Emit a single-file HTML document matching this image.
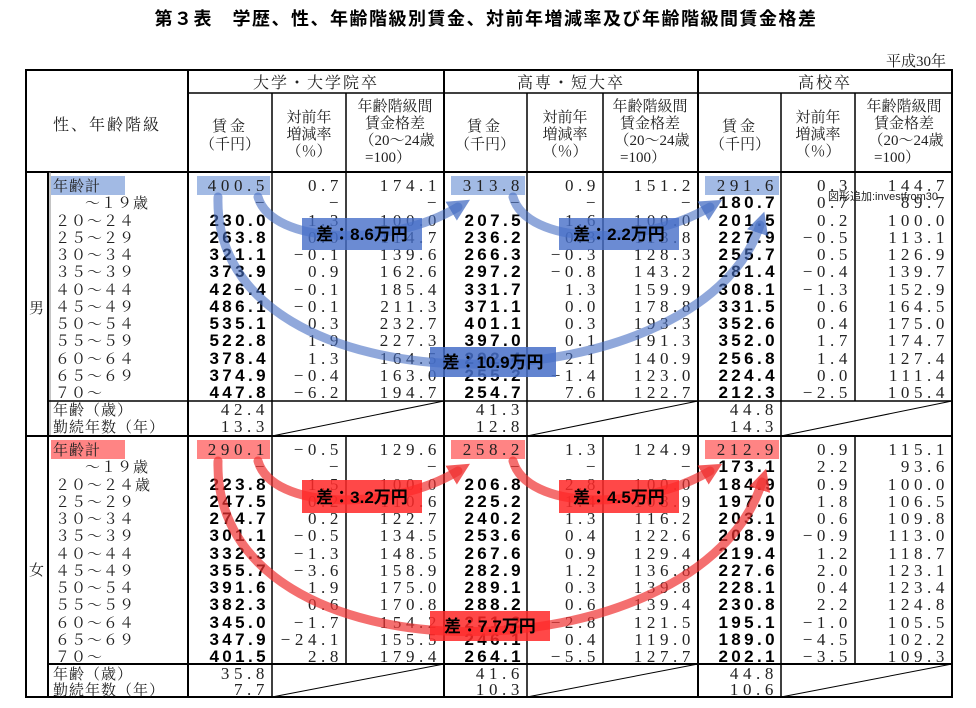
<!DOCTYPE html>
<html><head><meta charset="utf-8"><style>
body{margin:0;background:#fff;width:976px;height:708px;overflow:hidden}
svg{display:block}
.t{font-family:"Liberation Serif","Noto Serif CJK SC",serif;font-size:15px;fill:#222}
.h{font-family:"Liberation Serif","Noto Serif CJK SC",serif;font-size:15px;fill:#222;text-anchor:middle}
.n text{font-family:"Liberation Serif",serif;font-size:17px;letter-spacing:4.6px;text-anchor:end;fill:#222}
.n text.b{font-family:"Liberation Sans",sans-serif;font-weight:bold;letter-spacing:3.4px;fill:#000}
.lb{font-family:"Noto Serif CJK SC",serif;font-size:15px;fill:#222;letter-spacing:1px}
.box{font-family:"Liberation Sans","Noto Sans CJK JP",sans-serif;font-size:17px;font-weight:bold;fill:#000;text-anchor:middle}
</style></head><body>
<svg width="976" height="708" viewBox="0 0 976 708">
<defs>
<marker id="ab" markerWidth="22" markerHeight="22" refX="8" refY="11" orient="auto" markerUnits="userSpaceOnUse"><path d="M0,0 L22,11 L0,22 z" fill="rgba(70,110,195,0.75)"/></marker>
<marker id="ar" markerWidth="22" markerHeight="22" refX="8" refY="11" orient="auto" markerUnits="userSpaceOnUse"><path d="M0,0 L22,11 L0,22 z" fill="rgba(240,50,50,0.8)"/></marker>
</defs>
<text x="486" y="25" text-anchor="middle" style="font-family:'Liberation Sans','Noto Sans CJK JP',sans-serif;font-size:18px;font-weight:bold;letter-spacing:1.5px">第３表　学歴、性、年齢階級別賃金、対前年増減率及び年齢階級間賃金格差</text>
<text x="946" y="66" text-anchor="end" class="t" style="font-size:15px">平成30年</text>

<g fill="rgba(100,140,210,0.6)">
<rect x="51" y="176" width="74" height="19"/><rect x="197" y="176" width="73" height="19"/><rect x="451" y="176" width="74" height="19"/><rect x="705" y="176" width="74" height="19"/></g>
<g fill="rgba(255,80,80,0.7)">
<rect x="51" y="440" width="74" height="19"/><rect x="197" y="440" width="73" height="19"/><rect x="451" y="440" width="74" height="19"/><rect x="705" y="440" width="74" height="19"/></g>

<g stroke="#000" fill="none">
<rect x="26" y="70" width="926" height="627" stroke-width="2"/>
<line x1="188" y1="93" x2="952" y2="93" stroke-width="1.5"/>
<line x1="26" y1="172" x2="952" y2="172" stroke-width="2"/>
<line x1="188" y1="70" x2="188" y2="697" stroke-width="2"/>
<line x1="444" y1="70" x2="444" y2="697" stroke-width="2"/>
<line x1="698" y1="70" x2="698" y2="697" stroke-width="2"/>
<line x1="272" y1="93" x2="272" y2="697" stroke-width="1.5"/>
<line x1="527" y1="93" x2="527" y2="697" stroke-width="1.5"/>
<line x1="781" y1="93" x2="781" y2="697" stroke-width="1.5"/>
<line x1="346" y1="93" x2="346" y2="401" stroke-width="1.5"/>
<line x1="603" y1="93" x2="603" y2="401" stroke-width="1.5"/>
<line x1="855" y1="93" x2="855" y2="401" stroke-width="1.5"/>
<line x1="346" y1="436" x2="346" y2="664" stroke-width="1.5"/>
<line x1="603" y1="436" x2="603" y2="664" stroke-width="1.5"/>
<line x1="855" y1="436" x2="855" y2="664" stroke-width="1.5"/>
<line x1="48" y1="172" x2="48" y2="697" stroke-width="2"/>
<line x1="50" y1="172" x2="50" y2="436" stroke-width="1" stroke="#888"/>
<line x1="48" y1="401" x2="952" y2="401" stroke-width="1.5"/>
<line x1="26" y1="436" x2="952" y2="436" stroke-width="2"/>
<line x1="48" y1="664" x2="952" y2="664" stroke-width="2"/>
<line x1="272" y1="436" x2="444" y2="401" stroke-width="1"/>
<line x1="527" y1="436" x2="698" y2="401" stroke-width="1"/>
<line x1="781" y1="436" x2="952" y2="401" stroke-width="1"/>
<line x1="272" y1="697" x2="444" y2="664" stroke-width="1"/>
<line x1="527" y1="697" x2="698" y2="664" stroke-width="1"/>
<line x1="781" y1="697" x2="952" y2="664" stroke-width="1"/>
</g>

<g class="h" style="font-size:16px">
<text x="316" y="88" letter-spacing="2">大学・大学院卒</text>
<text x="571" y="88" letter-spacing="2">高専・短大卒</text>
<text x="825" y="88" letter-spacing="2">高校卒</text>
<text x="107" y="130" letter-spacing="2">性、年齢階級</text>
</g>
<g class="h">
<text x="230" y="131" letter-spacing="3">賃金</text><text x="230" y="149">（千円）</text>
<text x="309" y="122">対前年</text><text x="309" y="139">増減率</text><text x="309" y="156">（％）</text>
<text x="395" y="111">年齢階級間</text><text x="395" y="128">賃金格差</text><text x="397" y="145">（20～24歳</text><text x="388" y="162">=100）</text>
<text x="485" y="131" letter-spacing="3">賃金</text><text x="485" y="149">（千円）</text>
<text x="565" y="122">対前年</text><text x="565" y="139">増減率</text><text x="565" y="156">（％）</text>
<text x="650" y="111">年齢階級間</text><text x="650" y="128">賃金格差</text><text x="652" y="145">（20～24歳</text><text x="643" y="162">=100）</text>
<text x="740" y="131" letter-spacing="3">賃金</text><text x="740" y="149">（千円）</text>
<text x="818" y="122">対前年</text><text x="818" y="139">増減率</text><text x="818" y="156">（％）</text>
<text x="904" y="111">年齢階級間</text><text x="904" y="128">賃金格差</text><text x="906" y="145">（20～24歳</text><text x="897" y="162">=100）</text>
</g>
<text x="29" y="313" class="t">男</text>
<text x="29" y="575" class="t">女</text>

<g class="lb">
<text x="53" y="191">年齢計</text>
<text x="85" y="208">～１９歳</text>
<text x="55" y="226">２０～２４</text>
<text x="55" y="243">２５～２９</text>
<text x="55" y="260">３０～３４</text>
<text x="55" y="277">３５～３９</text>
<text x="55" y="295">４０～４４</text>
<text x="55" y="312">４５～４９</text>
<text x="55" y="329">５０～５４</text>
<text x="55" y="346">５５～５９</text>
<text x="55" y="364">６０～６４</text>
<text x="55" y="381">６５～６９</text>
<text x="55" y="398">７０～</text>
<text x="53" y="415">年齢（歳）</text>
<text x="53" y="432">勤続年数（年）</text>
<text x="53" y="455">年齢計</text>
<text x="85" y="472">～１９歳</text>
<text x="55" y="490">２０～２４歳</text>
<text x="55" y="507">２５～２９</text>
<text x="55" y="524">３０～３４</text>
<text x="55" y="541">３５～３９</text>
<text x="55" y="559">４０～４４</text>
<text x="55" y="576">４５～４９</text>
<text x="55" y="593">５０～５４</text>
<text x="55" y="610">５５～５９</text>
<text x="55" y="628">６０～６４</text>
<text x="55" y="645">６５～６９</text>
<text x="55" y="662">７０～</text>
<text x="53" y="679">年齢（歳）</text>
<text x="53" y="695">勤続年数（年）</text>
</g>

<g class="n" transform="translate(-3,0)">
<g transform="translate(0,191)"><text x="272">400.5</text><text x="346">0.7</text><text x="444">174.1</text><text x="527">313.8</text><text x="603">0.9</text><text x="698">151.2</text><text x="781">291.6</text><text x="855">0.3</text><text x="952">144.7</text></g>
<g transform="translate(0,208)"><text x="272">−</text><text x="346">−</text><text x="444">−</text><text x="527">−</text><text x="603">−</text><text x="698">−</text><text class="b" x="781">180.7</text><text x="855">0.7</text><text x="952">89.7</text></g>
<g transform="translate(0,226)"><text class="b" x="272">230.0</text><text x="346">1.3</text><text x="444">100.0</text><text class="b" x="527">207.5</text><text x="603">1.6</text><text x="698">100.0</text><text class="b" x="781">201.5</text><text x="855">0.2</text><text x="952">100.0</text></g>
<g transform="translate(0,243)"><text class="b" x="272">263.8</text><text x="346">0.0</text><text x="444">114.7</text><text class="b" x="527">236.2</text><text x="603">0.3</text><text x="698">113.8</text><text class="b" x="781">227.9</text><text x="855">−0.5</text><text x="952">113.1</text></g>
<g transform="translate(0,260)"><text class="b" x="272">321.1</text><text x="346">−0.1</text><text x="444">139.6</text><text class="b" x="527">266.3</text><text x="603">−0.3</text><text x="698">128.3</text><text class="b" x="781">255.7</text><text x="855">0.5</text><text x="952">126.9</text></g>
<g transform="translate(0,277)"><text class="b" x="272">373.9</text><text x="346">0.9</text><text x="444">162.6</text><text class="b" x="527">297.2</text><text x="603">−0.8</text><text x="698">143.2</text><text class="b" x="781">281.4</text><text x="855">−0.4</text><text x="952">139.7</text></g>
<g transform="translate(0,295)"><text class="b" x="272">426.4</text><text x="346">−0.1</text><text x="444">185.4</text><text class="b" x="527">331.7</text><text x="603">1.3</text><text x="698">159.9</text><text class="b" x="781">308.1</text><text x="855">−1.3</text><text x="952">152.9</text></g>
<g transform="translate(0,312)"><text class="b" x="272">486.1</text><text x="346">−0.1</text><text x="444">211.3</text><text class="b" x="527">371.1</text><text x="603">0.0</text><text x="698">178.8</text><text class="b" x="781">331.5</text><text x="855">0.6</text><text x="952">164.5</text></g>
<g transform="translate(0,329)"><text class="b" x="272">535.1</text><text x="346">0.3</text><text x="444">232.7</text><text class="b" x="527">401.1</text><text x="603">0.3</text><text x="698">193.3</text><text class="b" x="781">352.6</text><text x="855">0.4</text><text x="952">175.0</text></g>
<g transform="translate(0,346)"><text class="b" x="272">522.8</text><text x="346">1.9</text><text x="444">227.3</text><text class="b" x="527">397.0</text><text x="603">0.1</text><text x="698">191.3</text><text class="b" x="781">352.0</text><text x="855">1.7</text><text x="952">174.7</text></g>
<g transform="translate(0,364)"><text class="b" x="272">378.4</text><text x="346">1.3</text><text x="444">164.5</text><text class="b" x="527">292.4</text><text x="603">2.1</text><text x="698">140.9</text><text class="b" x="781">256.8</text><text x="855">1.4</text><text x="952">127.4</text></g>
<g transform="translate(0,381)"><text class="b" x="272">374.9</text><text x="346">−0.4</text><text x="444">163.0</text><text class="b" x="527">255.2</text><text x="603">−1.4</text><text x="698">123.0</text><text class="b" x="781">224.4</text><text x="855">0.0</text><text x="952">111.4</text></g>
<g transform="translate(0,398)"><text class="b" x="272">447.8</text><text x="346">−6.2</text><text x="444">194.7</text><text class="b" x="527">254.7</text><text x="603">7.6</text><text x="698">122.7</text><text class="b" x="781">212.3</text><text x="855">−2.5</text><text x="952">105.4</text></g>
<g transform="translate(0,415)"><text x="272">42.4</text><text x="527">41.3</text><text x="781">44.8</text></g>
<g transform="translate(0,432)"><text x="272">13.3</text><text x="527">12.8</text><text x="781">14.3</text></g>

<g transform="translate(0,455)"><text x="272">290.1</text><text x="346">−0.5</text><text x="444">129.6</text><text x="527">258.2</text><text x="603">1.3</text><text x="698">124.9</text><text x="781">212.9</text><text x="855">0.9</text><text x="952">115.1</text></g>
<g transform="translate(0,472)"><text x="272">−</text><text x="346">−</text><text x="444">−</text><text x="527">−</text><text x="603">−</text><text x="698">−</text><text class="b" x="781">173.1</text><text x="855">2.2</text><text x="952">93.6</text></g>
<g transform="translate(0,490)"><text class="b" x="272">223.8</text><text x="346">1.5</text><text x="444">100.0</text><text class="b" x="527">206.8</text><text x="603">2.8</text><text x="698">100.0</text><text class="b" x="781">184.9</text><text x="855">0.9</text><text x="952">100.0</text></g>
<g transform="translate(0,507)"><text class="b" x="272">247.5</text><text x="346">0.2</text><text x="444">110.6</text><text class="b" x="527">225.2</text><text x="603">1.4</text><text x="698">108.9</text><text class="b" x="781">197.0</text><text x="855">1.8</text><text x="952">106.5</text></g>
<g transform="translate(0,524)"><text class="b" x="272">274.7</text><text x="346">0.2</text><text x="444">122.7</text><text class="b" x="527">240.2</text><text x="603">1.3</text><text x="698">116.2</text><text class="b" x="781">203.1</text><text x="855">0.6</text><text x="952">109.8</text></g>
<g transform="translate(0,541)"><text class="b" x="272">301.1</text><text x="346">−0.5</text><text x="444">134.5</text><text class="b" x="527">253.6</text><text x="603">0.4</text><text x="698">122.6</text><text class="b" x="781">208.9</text><text x="855">−0.9</text><text x="952">113.0</text></g>
<g transform="translate(0,559)"><text class="b" x="272">332.3</text><text x="346">−1.3</text><text x="444">148.5</text><text class="b" x="527">267.6</text><text x="603">0.9</text><text x="698">129.4</text><text class="b" x="781">219.4</text><text x="855">1.2</text><text x="952">118.7</text></g>
<g transform="translate(0,576)"><text class="b" x="272">355.7</text><text x="346">−3.6</text><text x="444">158.9</text><text class="b" x="527">282.9</text><text x="603">1.2</text><text x="698">136.8</text><text class="b" x="781">227.6</text><text x="855">2.0</text><text x="952">123.1</text></g>
<g transform="translate(0,593)"><text class="b" x="272">391.6</text><text x="346">1.9</text><text x="444">175.0</text><text class="b" x="527">289.1</text><text x="603">0.3</text><text x="698">139.8</text><text class="b" x="781">228.1</text><text x="855">0.4</text><text x="952">123.4</text></g>
<g transform="translate(0,610)"><text class="b" x="272">382.3</text><text x="346">0.6</text><text x="444">170.8</text><text class="b" x="527">288.2</text><text x="603">0.6</text><text x="698">139.4</text><text class="b" x="781">230.8</text><text x="855">2.2</text><text x="952">124.8</text></g>
<g transform="translate(0,628)"><text class="b" x="272">345.0</text><text x="346">−1.7</text><text x="444">154.2</text><text class="b" x="527">251.2</text><text x="603">−2.8</text><text x="698">121.5</text><text class="b" x="781">195.1</text><text x="855">−1.0</text><text x="952">105.5</text></g>
<g transform="translate(0,645)"><text class="b" x="272">347.9</text><text x="346">−24.1</text><text x="444">155.5</text><text class="b" x="527">246.1</text><text x="603">0.4</text><text x="698">119.0</text><text class="b" x="781">189.0</text><text x="855">−4.5</text><text x="952">102.2</text></g>
<g transform="translate(0,662)"><text class="b" x="272">401.5</text><text x="346">2.8</text><text x="444">179.4</text><text class="b" x="527">264.1</text><text x="603">−5.5</text><text x="698">127.7</text><text class="b" x="781">202.1</text><text x="855">−3.5</text><text x="952">109.3</text></g>
<g transform="translate(0,679)"><text x="272">35.8</text><text x="527">41.6</text><text x="781">44.8</text></g>
<g transform="translate(0,695)"><text x="272">7.7</text><text x="527">10.3</text><text x="781">10.6</text></g>
</g>

<text x="828" y="200" style="font-family:'Liberation Sans','Noto Sans CJK JP',sans-serif;font-size:11px;fill:#222">図形追加:investfrom30</text>

<g fill="none" stroke-width="9" stroke-linecap="round">
<path d="M258,197 C272,245 390,248 458,207" stroke="rgba(70,110,195,0.6)" marker-end="url(#ab)"/>
<path d="M513,197 C527,245 640,248 710,207" stroke="rgba(70,110,195,0.6)" marker-end="url(#ab)"/>
<path d="M218,197 C212,420 700,410 760,225" stroke="rgba(70,110,195,0.6)" marker-end="url(#ab)"/>
<path d="M258,461 C272,510 390,512 458,471" stroke="rgba(240,50,50,0.7)" marker-end="url(#ar)"/>
<path d="M513,461 C527,510 640,512 710,471" stroke="rgba(240,50,50,0.7)" marker-end="url(#ar)"/>
<path d="M218,461 C212,690 700,680 762,482" stroke="rgba(240,50,50,0.7)" marker-end="url(#ar)"/>
</g>
<g>
<rect x="302" y="218" width="120" height="32" fill="rgba(70,110,200,0.8)"/><text class="box" x="362" y="240">差：8.6万円</text>
<rect x="559" y="218" width="120" height="32" fill="rgba(70,110,200,0.8)"/><text class="box" x="619" y="240">差：2.2万円</text>
<rect x="430" y="347" width="126" height="30" fill="rgba(70,110,200,0.85)"/><text class="box" x="493" y="368">差：10.9万円</text>
<rect x="302" y="480" width="120" height="33" fill="rgba(255,40,40,0.85)"/><text class="box" x="362" y="503">差：3.2万円</text>
<rect x="559" y="480" width="120" height="33" fill="rgba(255,40,40,0.85)"/><text class="box" x="619" y="503">差：4.5万円</text>
<rect x="430" y="611" width="120" height="30" fill="rgba(255,40,40,0.85)"/><text class="box" x="490" y="632">差：7.7万円</text>
</g>
</svg>
</body></html>
